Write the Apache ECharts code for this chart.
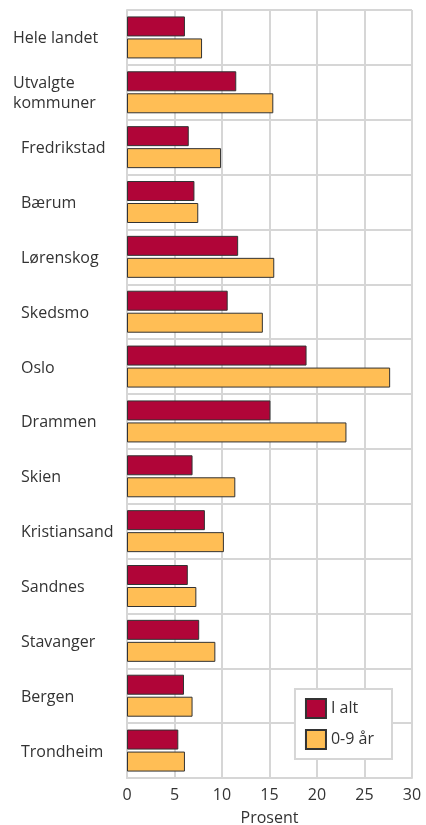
<!DOCTYPE html>
<html>
<head>
<meta charset="utf-8">
<script src="https://cdn.jsdelivr.net/npm/echarts@6/dist/echarts.min.js"></script>
<style>
  html, body { margin: 0; padding: 0; background: #fff; }
  #chart { width: 426px; height: 825px; }
</style>
</head>
<body>
<div id="chart"></div>
<script>
const categories = [
  'Hele landet', 'Utvalgte\nkommuner', 'Fredrikstad', 'Bærum', 'Lørenskog', 'Skedsmo', 'Oslo',
  'Drammen', 'Skien', 'Kristiansand', 'Sandnes', 'Stavanger', 'Bergen', 'Trondheim'
]
const iAlt = [6.1, 11.5, 6.5, 7.1, 11.7, 10.6, 18.9, 15.1, 6.9, 8.2, 6.4, 7.6, 6.0, 5.4]
const barn = [7.9, 15.4, 9.9, 7.5, 15.5, 14.3, 27.7, 23.1, 11.4, 10.2, 7.3, 9.3, 6.9, 6.1]
const xTicks = [0, 5, 10, 15, 20, 25, 30]

const gridColor = '#d6d6d6'
const textColor = '#333'
const font = '"Open Sans", "Noto Sans", sans-serif'

const myChart = echarts.init(document.getElementById('chart'))

const option = {
  animation: false,
  textStyle: { fontFamily: font },
  grid: { left: 127, right: 14, top: 10, bottom: 47, outerBoundsMode: 'none', containLabel: false },
  legend: {
    right: 34,
    bottom: 66,
    orient: 'vertical',
    icon: 'rect',
    backgroundColor: '#fff',
    borderColor: gridColor,
    borderWidth: 2,
    padding: [9, 18, 9, 10],
    itemWidth: 20,
    itemHeight: 19,
    itemGap: 10,
    textStyle: { fontSize: 16, color: textColor, fontFamily: font },
    data: ['I alt', '0-9 år']
  },
  xAxis: {
    type: 'value',
    min: xTicks[0],
    max: xTicks[xTicks.length - 1],
    interval: 5,
    name: 'Prosent',
    nameLocation: 'middle',
    nameGap: 32,
    nameTextStyle: { fontSize: 16, color: textColor, fontFamily: font },
    axisLine: { show: true, lineStyle: { color: gridColor, width: 2 } },
    axisTick: { show: false },
    axisLabel: { fontSize: 16, color: textColor, margin: 9, fontFamily: font },
    splitLine: { show: true, lineStyle: { color: gridColor, width: 2 } }
  },
  yAxis: {
    type: 'category',
    inverse: true,
    data: categories,
    axisLine: { show: true, lineStyle: { color: gridColor, width: 2 } },
    axisTick: { show: false },
    splitLine: { show: true, lineStyle: { color: gridColor, width: 2 } },
    axisLabel: {
      align: 'left',
      margin: 114,
      fontFamily: font,
      formatter: (v, i) => v.split('\n').map(s => (i < 2 ? '{w|' : '{n|') + s + '}').join('\n'),
      rich: {
        w: { fontSize: 16, color: textColor, lineHeight: 20, padding: [3, 0, 0, 0], fontFamily: font },
        n: { fontSize: 16, color: textColor, lineHeight: 20, padding: [3, 0, 0, 8], fontFamily: font }
      }
    }
  },
  series: [
    {
      name: 'I alt',
      type: 'bar',
      data: iAlt,
      barWidth: 20,
      barGap: '10%',
      itemStyle: { color: '#b00538', borderColor: '#333', borderWidth: 1 }
    },
    {
      name: '0-9 år',
      type: 'bar',
      data: barn,
      barWidth: 20,
      barGap: '10%',
      itemStyle: { color: '#ffbe55', borderColor: '#333', borderWidth: 1 }
    }
  ]
}

myChart.setOption(option)
</script>
</body>
</html>
